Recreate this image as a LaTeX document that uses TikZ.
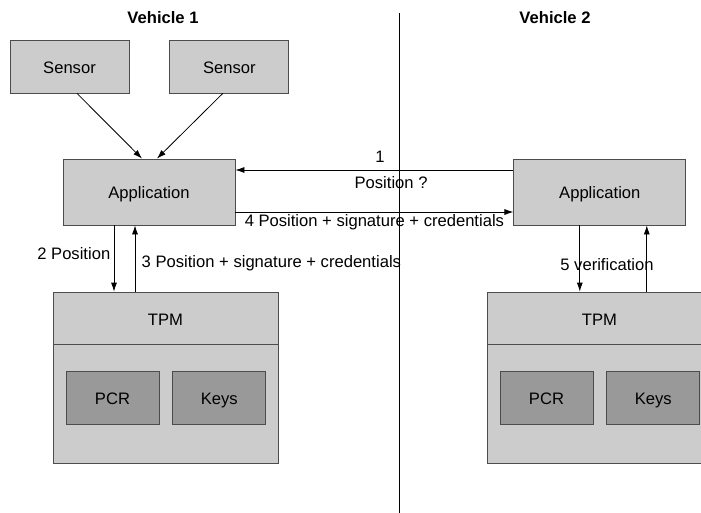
\documentclass[tikz,border=0pt]{standalone}
\usepackage{fontspec}
\setmainfont{Liberation Sans}
\usetikzlibrary{shapes, arrows.meta, positioning}

\begin{document}
\begin{tikzpicture}[x=1pt, y=-1pt, auto, >={Latex[length=9pt,width=6pt]}, font=\fontsize{16.6}{19}\selectfont]

	\tikzstyle{block} = [draw=black!70, fill=black!20, line width=0.8pt, minimum width=119pt, minimum height=53pt, inner sep=0pt, text height=16pt, text depth=2pt]

	\tikzstyle{app} = [block, minimum width=172pt, minimum height=66pt]

	\tikzstyle{chip} = [block, minimum width=225pt, minimum height=171pt]

	\tikzstyle{chiphead} = [block, minimum width=225pt, minimum height=52pt, anchor=north]

	\tikzstyle{reg} = [block, fill=black!40, minimum width=93pt, minimum height=53pt]

	\tikzstyle{line} = [draw, ->, line width=0.8pt]

	\useasboundingbox (0,0) rectangle (701,513);

	% vehicle 1
	\node[font=\fontsize{16.6}{19}\selectfont\bfseries] (veh1) at (163,18) {Vehicle 1};
	\node[block] (sensorA) at (69.5,66.5) {Sensor};
	\node[block] (sensorB) [right=40pt of sensorA] {Sensor};
	\node[app] (appA) at (149,192) {Application};
	\node[chip] (tpmA) at (165.5,377.5) {};
	\node[chiphead] (tpmAhead) at (tpmA.north) {TPM};
	\node[reg] (pcrA) at (112.5,397.5) {PCR};
	\node[reg] (keysA) [right=13pt of pcrA] {Keys};

	% vehicle 2
	\node[font=\fontsize{16.6}{19}\selectfont\bfseries] (veh2) at (555,18) {Vehicle 2};
	\node[app] (appB) [right=278pt of appA] {Application};
	\node[chip] (tpmB) at (599.5,377.5) {};
	\node[chiphead] (tpmBhead) at (tpmB.north) {TPM};
	\node[reg] (pcrB) at (546.5,397.5) {PCR};
	\node[reg] (keysB) [right=13pt of pcrB] {Keys};

	% border between the vehicles
	\coordinate (divtop) at (399,13);
	\coordinate (divbot) at (399,513);
	\draw[line width=0.8pt] (divtop) -- (divbot);

	\path [line] ([xshift=7.5pt]sensorA.south) -- ([xshift=-7pt]appA.north);
	\path [line] ([xshift=-6.5pt]sensorB.south) -- ([xshift=8pt]appA.north);

	\path [line] ([yshift=22pt]appB.west) -- node[above, pos=0.48, yshift=4pt]{1} node[below, pos=0.44, yshift=-3pt]{Position ?} ([yshift=22pt]appB.west -| appA.east);
	\path [line] ([yshift=-20pt]appA.east) -- node[below, yshift=1pt]{4 Position + signature + credentials} ([yshift=-20pt]appA.east -| appB.west);

	\path [line] ([xshift=-35pt]appA.south) -- node[left, pos=0.42]{2 Position} ([xshift=-35pt]appA.south |- tpmA.north);
	\path [line] ([xshift=-14pt]appA.south |- tpmA.north) -- node[right, pos=0.43, xshift=3pt]{3 Position + signature + credentials} ([xshift=-14pt]appA.south);

	\path [line] ([xshift=-20pt]appB.south) -- ([xshift=-20pt]appB.south |- tpmB.north);
	\path [line] ([xshift=47pt]appB.south |- tpmB.north) -- ([xshift=47pt]appB.south);
	\node (verif) at (607,265) {5 verification};

\end{tikzpicture}
\end{document}
